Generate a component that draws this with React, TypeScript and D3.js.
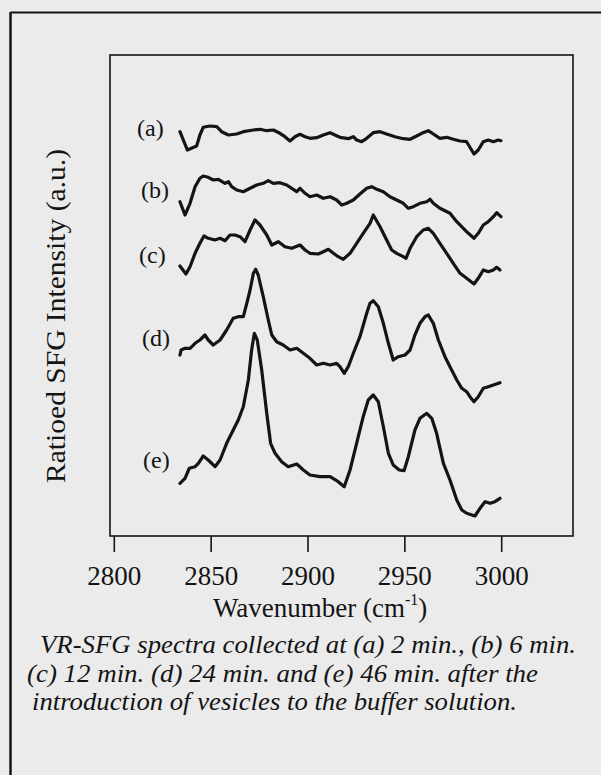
import React from "react";
import * as d3 from "d3";

// Wavenumber axis ticks (cm^-1)
const WAVENUMBER_TICKS = [2800, 2850, 2900, 2950, 3000];
const SERIES_LABELS = ["(a)", "(b)", "(c)", "(d)", "(e)"];

// Stacked ratioed SFG intensity (a.u., vertically offset) vs wavenumber
const SPECTRUM_A: [number, number][] = [
  [2833.9, 4.043], [2837.7, 3.86], [2842.5, 3.9], [2844.2, 4.01], [2845.9, 4.087],
  [2849.4, 4.1], [2852.9, 4.093], [2855.4, 4.043], [2858.9, 4.01], [2863.2, 4.02],
  [2866.6, 4.043], [2871.8, 4.06], [2875.2, 4.067], [2878.7, 4.053], [2882.1, 4.06],
  [2885.5, 4.027], [2888.1, 3.993], [2890.7, 3.95], [2893.3, 3.993], [2895.9, 4.017],
  [2898.5, 3.993], [2901.0, 3.977], [2904.5, 3.983], [2907.9, 4.01], [2911.4, 4.033],
  [2913.9, 4.01], [2916.5, 3.987], [2920.8, 3.973], [2923.4, 3.993], [2925.1, 3.96],
  [2927.7, 3.943], [2930.3, 3.977], [2933.7, 4.033], [2937.2, 4.043], [2940.6, 4.02],
  [2944.9, 3.993], [2949.2, 3.973], [2952.7, 3.967], [2956.1, 4.0], [2958.7, 4.027],
  [2962.1, 4.053], [2964.7, 4.02], [2968.1, 3.977], [2971.6, 3.987], [2975.0, 3.967],
  [2978.5, 3.95], [2981.9, 3.943], [2983.6, 3.887], [2985.7, 3.82], [2987.9, 3.86],
  [2990.5, 3.943], [2993.1, 3.96], [2995.7, 3.943], [2998.2, 3.96], [2999.6, 3.953],
];

const SPECTRUM_B: [number, number][] = [
  [2833.9, 3.343], [2836.5, 3.21], [2839.1, 3.327], [2841.7, 3.493], [2844.2, 3.577],
  [2845.9, 3.6], [2848.5, 3.587], [2851.1, 3.56], [2853.7, 3.567], [2857.2, 3.527],
  [2858.9, 3.543], [2860.6, 3.493], [2863.2, 3.46], [2866.6, 3.443], [2870.1, 3.477],
  [2873.5, 3.51], [2876.9, 3.527], [2879.5, 3.553], [2882.1, 3.527], [2885.5, 3.533],
  [2889.0, 3.51], [2891.6, 3.477], [2894.2, 3.443], [2895.9, 3.477], [2898.5, 3.427],
  [2901.0, 3.393], [2904.5, 3.41], [2907.9, 3.377], [2911.4, 3.393], [2914.8, 3.36],
  [2917.4, 3.31], [2920.0, 3.327], [2923.4, 3.36], [2926.8, 3.42], [2930.3, 3.477],
  [2932.9, 3.493], [2935.5, 3.467], [2938.9, 3.443], [2942.3, 3.393], [2945.8, 3.36],
  [2949.2, 3.327], [2951.8, 3.277], [2954.4, 3.293], [2957.8, 3.327], [2961.3, 3.343],
  [2963.0, 3.367], [2964.7, 3.327], [2968.1, 3.277], [2973.3, 3.227], [2976.8, 3.143],
  [2980.2, 3.077], [2982.8, 3.027], [2985.7, 2.977], [2987.9, 3.027], [2990.5, 3.11],
  [2993.1, 3.143], [2995.7, 3.193], [2997.4, 3.233], [2999.6, 3.193],
];

const SPECTRUM_C: [number, number][] = [
  [2833.9, 2.7], [2837.0, 2.62], [2839.1, 2.693], [2841.7, 2.827], [2844.2, 2.927],
  [2846.3, 3.0], [2848.5, 2.977], [2852.0, 2.96], [2854.6, 2.977], [2857.2, 2.953],
  [2859.7, 3.01], [2862.3, 3.01], [2864.9, 2.993], [2867.5, 2.943], [2870.1, 3.06],
  [2872.6, 3.16], [2875.2, 3.11], [2878.7, 3.01], [2881.3, 2.91], [2884.7, 2.943],
  [2888.1, 2.893], [2891.6, 2.877], [2895.9, 2.91], [2898.5, 2.86], [2901.0, 2.827],
  [2905.3, 2.82], [2907.9, 2.843], [2910.5, 2.867], [2913.1, 2.827], [2915.6, 2.793],
  [2918.2, 2.767], [2921.7, 2.827], [2925.1, 2.927], [2928.5, 3.027], [2932.0, 3.127],
  [2933.7, 3.21], [2937.2, 3.093], [2940.6, 2.96], [2943.2, 2.86], [2945.8, 2.827],
  [2949.2, 2.793], [2950.6, 2.777], [2952.7, 2.877], [2956.1, 2.993], [2959.5, 3.06],
  [2962.1, 3.077], [2964.7, 3.027], [2968.1, 2.927], [2971.6, 2.827], [2975.0, 2.727],
  [2978.5, 2.627], [2981.9, 2.577], [2985.7, 2.52], [2987.9, 2.577], [2990.5, 2.66],
  [2993.1, 2.643], [2995.7, 2.66], [2997.4, 2.687], [2999.1, 2.66],
];

const SPECTRUM_D: [number, number][] = [
  [2833.9, 1.81], [2834.5, 1.86], [2836.5, 1.877], [2839.1, 1.877], [2841.7, 1.927],
  [2844.2, 1.96], [2846.8, 2.01], [2848.5, 1.96], [2851.1, 1.91], [2854.6, 1.96],
  [2858.0, 2.06], [2861.4, 2.177], [2864.0, 2.193], [2866.6, 2.193], [2868.4, 2.327],
  [2870.1, 2.46], [2871.8, 2.627], [2873.0, 2.667], [2874.3, 2.61], [2876.9, 2.393],
  [2879.5, 2.16], [2881.3, 2.01], [2883.8, 1.943], [2887.2, 1.91], [2890.7, 1.86],
  [2894.2, 1.877], [2897.6, 1.827], [2901.0, 1.777], [2904.5, 1.71], [2907.9, 1.727],
  [2911.4, 1.71], [2914.8, 1.727], [2916.5, 1.693], [2918.7, 1.627], [2920.8, 1.693],
  [2923.4, 1.827], [2926.8, 1.993], [2930.3, 2.227], [2932.0, 2.327], [2933.7, 2.353],
  [2936.3, 2.293], [2938.9, 2.127], [2941.5, 1.927], [2944.0, 1.76], [2946.6, 1.793],
  [2950.1, 1.81], [2952.7, 1.86], [2955.2, 2.01], [2957.8, 2.127], [2960.4, 2.193],
  [2962.1, 2.21], [2964.7, 2.127], [2967.3, 1.96], [2970.7, 1.793], [2973.3, 1.693],
  [2976.8, 1.56], [2979.4, 1.477], [2981.9, 1.443], [2983.6, 1.393], [2985.7, 1.343],
  [2987.9, 1.393], [2990.5, 1.477], [2993.1, 1.493], [2995.7, 1.51], [2999.1, 1.533],
];

const SPECTRUM_E: [number, number][] = [
  [2833.9, 0.527], [2836.5, 0.577], [2838.7, 0.677], [2841.7, 0.693], [2843.4, 0.727],
  [2845.9, 0.8], [2848.5, 0.76], [2852.0, 0.693], [2854.6, 0.76], [2858.0, 0.927],
  [2861.4, 1.06], [2864.0, 1.16], [2866.6, 1.293], [2869.2, 1.56], [2870.9, 1.86],
  [2872.3, 2.027], [2873.8, 1.96], [2876.1, 1.66], [2878.7, 1.227], [2880.7, 0.927],
  [2883.0, 0.827], [2886.4, 0.743], [2889.8, 0.693], [2894.2, 0.72], [2897.6, 0.66],
  [2901.0, 0.61], [2906.2, 0.593], [2911.4, 0.593], [2915.6, 0.543], [2918.7, 0.493],
  [2921.7, 0.66], [2925.1, 0.927], [2928.5, 1.193], [2931.1, 1.36], [2933.7, 1.41],
  [2936.3, 1.343], [2938.9, 1.093], [2941.5, 0.827], [2944.0, 0.71], [2947.1, 0.66],
  [2949.6, 0.653], [2951.8, 0.793], [2955.2, 1.06], [2957.8, 1.177], [2961.3, 1.227],
  [2963.9, 1.177], [2966.4, 1.027], [2969.9, 0.727], [2973.3, 0.56], [2976.8, 0.36],
  [2979.4, 0.26], [2981.9, 0.227], [2986.2, 0.2], [2988.8, 0.277], [2991.4, 0.343],
  [2994.0, 0.327], [2996.5, 0.343], [2999.1, 0.377],
];

const SPECTRA = [SPECTRUM_A, SPECTRUM_B, SPECTRUM_C, SPECTRUM_D, SPECTRUM_E];

const CAPTION_LINES = [
  "VR-SFG spectra collected at (a) 2 min., (b) 6 min.",
  "(c) 12 min. (d) 24 min. and (e) 46 min. after the",
  "introduction of vesicles to the buffer solution.",
];

const W = 601;
const H = 775;
const BG = "#ebebeb";
const INK = "#141414";
const SERIF = "'Liberation Serif', 'Times New Roman', Times, serif";

// plot frame and scale ranges
const BOX = { left: 110, top: 55, right: 573, bottom: 536 };
const X_RANGE: [number, number] = [114.3, 501.7];

// label anchors for each spectrum (px)
const LABEL_POS = [
  { x: 137, y: 136 },
  { x: 141, y: 198 },
  { x: 139, y: 263 },
  { x: 142, y: 346 },
  { x: 143, y: 468 },
];

// caption layout: start x, baseline, line length
const CAPTION_POS = [
  { x: 40, y: 653, len: 536 },
  { x: 27, y: 682, len: 511 },
  { x: 32, y: 710, len: 485 },
];

export default function App() {
  const x = d3.scaleLinear().domain([2800, 3000]).range(X_RANGE);
  const y = d3.scaleLinear().domain([0, 4.81]).range([BOX.bottom, BOX.top]);
  const line = d3
    .line<[number, number]>()
    .x((d) => x(d[0]))
    .y((d) => y(d[1]))
    .curve(d3.curveLinear);

  return (
    <svg
      width={W}
      height={H}
      viewBox={`0 0 ${W} ${H}`}
      style={{ position: "absolute", left: 0, top: 0, display: "block" }}
    >
      <rect x={0} y={0} width={W} height={H} fill={BG} />

      {/* outer figure frame (open on right and bottom) */}
      <line x1={10.5} y1={12.5} x2={W + 5} y2={12.5} stroke={INK} strokeWidth={2} />
      <line x1={10.5} y1={12} x2={10.5} y2={H + 5} stroke={INK} strokeWidth={2.5} />

      {/* plot box */}
      <rect
        x={BOX.left}
        y={BOX.top}
        width={BOX.right - BOX.left}
        height={BOX.bottom - BOX.top}
        fill="none"
        stroke={INK}
        strokeWidth={1.6}
      />

      {/* x ticks & labels */}
      {WAVENUMBER_TICKS.map((t) => (
        <g key={t}>
          <line
            x1={x(t)}
            x2={x(t)}
            y1={BOX.bottom}
            y2={BOX.bottom + 16}
            stroke={INK}
            strokeWidth={1.6}
          />
          <text
            x={x(t)}
            y={585}
            textAnchor="middle"
            fontFamily={SERIF}
            fontSize={27}
            fill={INK}
          >
            {t}
          </text>
        </g>
      ))}

      <text x={213} y={617} fontFamily={SERIF} fontSize={27} fill={INK}>
        Wavenumber (cm
        <tspan fontSize={16} dy={-12}>-1</tspan>
        <tspan dy={12}>)</tspan>
      </text>

      <text
        transform={`translate(65, 316) rotate(-90)`}
        textAnchor="middle"
        fontFamily={SERIF}
        fontSize={27}
        fill={INK}
        textLength={334}
        lengthAdjust="spacingAndGlyphs"
      >
        Ratioed SFG Intensity (a.u.)
      </text>

      {/* spectra */}
      {SPECTRA.map((s, i) => (
        <path
          key={i}
          d={line(s) || ""}
          fill="none"
          stroke={INK}
          strokeWidth={3.2}
          strokeLinejoin="round"
          strokeLinecap="round"
        />
      ))}

      {SERIES_LABELS.map((lab, i) => (
        <text
          key={lab}
          x={LABEL_POS[i].x}
          y={LABEL_POS[i].y}
          fontFamily={SERIF}
          fontSize={24}
          fill={INK}
        >
          {lab}
        </text>
      ))}

      {/* caption */}
      {CAPTION_LINES.map((txt, i) => (
        <text
          key={i}
          x={CAPTION_POS[i].x}
          y={CAPTION_POS[i].y}
          fontFamily={SERIF}
          fontStyle="italic"
          fontSize={25}
          fill={INK}
          textLength={CAPTION_POS[i].len}
          lengthAdjust="spacingAndGlyphs"
        >
          {txt}
        </text>
      ))}
    </svg>
  );
}
